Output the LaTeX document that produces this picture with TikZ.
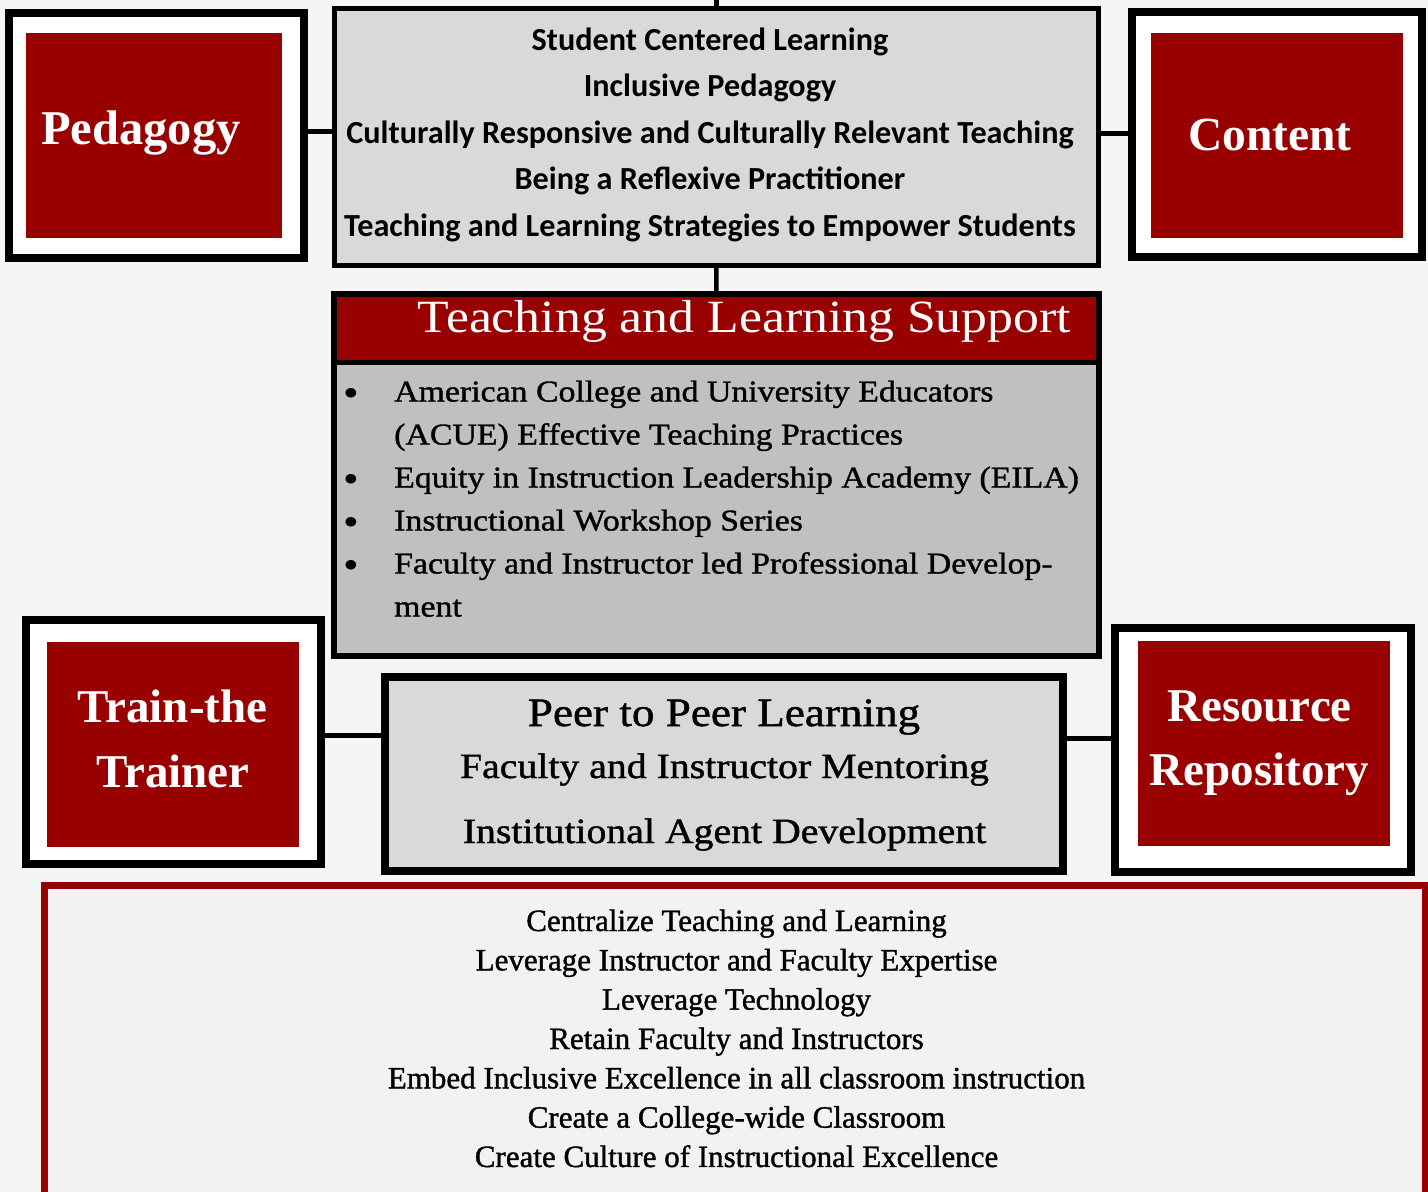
\documentclass[tikz,border=0pt]{standalone}
\usepackage{fontspec}
\setmainfont{Liberation Serif}
\newfontfamily\garf[FakeStretch=1.12]{Liberation Serif}
\newfontfamily\garb[FakeStretch=1.12, FakeBold=1.2]{Liberation Serif}
\newfontfamily\botf[FakeBold=1.2]{Liberation Serif}
\newfontfamily\calf{Carlito}
\definecolor{dred}{HTML}{990000}
\definecolor{bgc}{HTML}{F5F5F5}
\definecolor{lgray}{HTML}{D9D9D9}
\definecolor{mgray}{HTML}{C0C0C0}
\definecolor{pgray}{HTML}{F2F2F2}
\tikzset{
  outerbox/.style={draw=black, line width=8pt, fill=white, inner sep=0pt, outer sep=0pt},
  redbox/.style={fill=dred, inner sep=0pt, outer sep=0pt},
  graybox/.style={draw=black, fill=lgray, inner sep=0pt, outer sep=0pt},
  conn/.style={draw=black, line width=5pt},
  lbl/.style={text=white, font=\fontsize{47}{52}\selectfont\bfseries, inner sep=0pt, anchor=base},
  topline/.style={font=\calf\bfseries\fontsize{32.2}{36}\selectfont, inner sep=0pt, anchor=base},
  bul/.style={font=\garb\fontsize{30.2}{34}\selectfont, inner sep=0pt, anchor=base west},
  bdot/.style={font=\garf\fontsize{40}{44}\selectfont, inner sep=0pt, anchor=base},
  peerline/.style={font=\garb\fontsize{35.5}{40}\selectfont, inner sep=0pt, anchor=base},
  botline/.style={font=\botf\fontsize{31}{36}\selectfont, inner sep=0pt, anchor=base},
}
\begin{document}
\begin{tikzpicture}[x=1pt, y=-1pt]
\clip (0,0) rectangle (1428,1192);
\fill[bgc] (0,0) rectangle (1428,1192);

% Pedagogy
\node[outerbox, minimum width=295pt, minimum height=244.5pt] (pedout) at (156.5,135.25) {};
\node[redbox, minimum width=256pt, minimum height=205pt] (pedred) at (154,135.5) {};
\node[lbl, font=\fontsize{48.5}{52}\selectfont\bfseries, anchor=base west] (pedtxt) at (41,144) {Pedagogy};

% Content
\node[outerbox, minimum width=290pt, minimum height=245pt] (contout) at (1277,134.5) {};
\node[redbox, minimum width=252pt, minimum height=205pt] (contred) at (1277,135.5) {};
\node[lbl, font=\fontsize{47.5}{52}\selectfont\bfseries, anchor=base west] (conttxt) at (1188,150) {Content};

% Top gray box
\node[graybox, line width=5pt, minimum width=764.5pt, minimum height=257.5pt] (topbox) at (716.25,136.75) {};
\node[topline] (t1) at (710,50) {Student Centered Learning};
\node[topline] (t2) at (710,96.6) {Inclusive Pedagogy};
\node[topline] (t3) at (710,143.2) {Culturally Responsive and Culturally Relevant Teaching};
\node[topline] (t4) at (710,189.8) {Being a Reflexive Practitioner};
\node[topline] (t5) at (710,236.4) {Teaching and Learning Strategies to Empower Students};

% Teaching and Learning Support
\node[draw=black, line width=6pt, fill=mgray, inner sep=0pt, outer sep=0pt, minimum width=765pt, minimum height=361.5pt] (tl) at (716.5,474.75) {};
\fill[dred] (337,297) rectangle (1096,360);
\draw[line width=5pt] (337,362.5) -- (1096,362.5);
\node[text=white, font=\garf\fontsize{46.2}{50}\selectfont, inner sep=0pt, anchor=base] (tlhead) at (744.5,332.7) {Teaching and Learning Support};
\node[bdot] (b1) at (351,406.5) {\textbullet};
\node[bdot] (b2) at (351,492.5) {\textbullet};
\node[bdot] (b3) at (351,535.5) {\textbullet};
\node[bdot] (b4) at (351,578.5) {\textbullet};
\node[bul] (l1) at (394,401.5) {American College and University Educators};
\node[bul] (l2) at (394,444.5) {(ACUE) Effective Teaching Practices};
\node[bul] (l3) at (394,487.5) {Equity in Instruction Leadership Academy (EILA)};
\node[bul] (l4) at (394,530.5) {Instructional Workshop Series};
\node[bul] (l5) at (394,573.5) {Faculty and Instructor led Professional Develop-};
\node[bul] (l6) at (394,616.5) {ment};

% Train-the Trainer
\node[outerbox, minimum width=295pt, minimum height=244pt] (trout) at (173.5,742) {};
\node[redbox, minimum width=252pt, minimum height=205pt] (trred) at (173,744.5) {};
\node[lbl] (tr1) at (172.5,722.5) {Train-the};
\node[lbl] (tr2) at (173,787.5) {Trainer};

% Resource Repository
\node[outerbox, minimum width=296pt, minimum height=243.5pt] (resout) at (1263,749.75) {};
\node[redbox, minimum width=252pt, minimum height=205pt] (resred) at (1264,743.5) {};
\node[lbl] (rs1) at (1259.5,721) {Resource};
\node[lbl] (rs2) at (1259.5,785) {Repository};

% Peer box
\node[graybox, line width=8pt, minimum width=677.5pt, minimum height=194pt] (peer) at (723.75,774) {};
\node[peerline, font=\garb\fontsize{40.3}{44}\selectfont] (p1) at (724,726) {Peer to Peer Learning};
\node[peerline] (p2) at (724.5,778) {Faculty and Instructor Mentoring};
\node[peerline] (p3) at (724.5,843) {Institutional Agent Development};

% Bottom box
\node[draw=dred, line width=7pt, fill=pgray, inner sep=0pt, outer sep=0pt, minimum width=1381pt, minimum height=325pt] (bottom) at (735,1047.5) {};
\foreach \i/\t in {0/Centralize Teaching and Learning,
                   1/Leverage Instructor and Faculty Expertise,
                   2/Leverage Technology,
                   3/Retain Faculty and Instructors,
                   4/Embed Inclusive Excellence in all classroom instruction,
                   5/Create a College-wide Classroom,
                   6/Create Culture of Instructional Excellence}{
  \node[botline] (g\i) at (736.5,{931+39.33*\i}) {\t};
}

% connectors
\coordinate (ya) at (0,131);
\coordinate (yb) at (0,133);
\coordinate (yc) at (0,735.5);
\coordinate (yd) at (0,738.5);
\coordinate (up) at (716.25,0);
\draw[conn] (pedout.east |- ya) -- (topbox.west |- ya);
\draw[conn] (topbox.east |- yb) -- (contout.west |- yb);
\draw[conn] (topbox.north) -- (up);
\draw[conn, line width=4.5pt] (topbox.south) -- (tl.north);
\draw[conn] (trout.east |- yc) -- (peer.west |- yc);
\draw[conn] (peer.east |- yd) -- (resout.west |- yd);
\end{tikzpicture}
\end{document}
